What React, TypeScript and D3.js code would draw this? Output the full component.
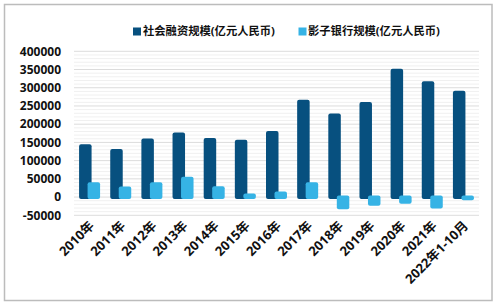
import React from "react";
import * as d3 from "d3";

const categories = ["2010年","2011年","2012年","2013年","2014年","2015年","2016年","2017年","2018年","2019年","2020年","2021年","2022年1-10月"];
const socialFinancing = [144800,132000,161000,177500,162000,157500,181000,267000,229500,261000,352000,318000,291500];
const shadowBanking = [41000,29000,41000,55500,30000,10000,15500,41000,-33500,-23500,-18000,-31500,-9000];
const seriesNames = ["社会融资规模(亿元人民币)","影子银行规模(亿元人民币)"];
const yTicks = [-50000,0,50000,100000,150000,200000,250000,300000,350000,400000];

const W = 496, H = 305;
const DARK = "#07507f";
const LIGHT = "#36b3e5";
const FONT = "'Open Sans', 'Noto Sans CJK SC', sans-serif";

export default function App() {
  const x = d3.scaleBand<string>().domain(categories).range([74, 479]).paddingInner(0).paddingOuter(0);
  const y = d3.scaleLinear().domain([-50000, 400000]).range([215.3, 51.3]);
  const minor = d3.range(-50000, 400001, 10000);
  const bw = 12.5;
  const bars: any[] = [];
  categories.forEach((c, i) => {
    const cx = x(c)! + x.bandwidth() / 2;
    const v1 = socialFinancing[i];
    const v2 = shadowBanking[i];
    const y0 = y(0);
    bars.push(
      <rect key={"d" + i} x={cx - 10.5} y={y(v1)} width={bw} height={y0 - y(v1) + 2} rx={2} fill={DARK} />
    );
    const top = v2 >= 0 ? y(v2) : y0 - 1.5;
    const h = v2 >= 0 ? y0 - y(v2) + 2 : y(v2) - y0 + 1.5;
    bars.push(
      <rect key={"l" + i} x={cx - 2} y={top} width={bw} height={h} rx={2} fill={LIGHT} />
    );
  });
  return (
    <svg width={W} height={H} style={{ position: "absolute", left: 0, top: 0 }} fontFamily={FONT}>
      <rect x={0} y={0} width={W} height={H} fill="#fff" />
      <rect x={4.5} y={4.5} width={487.5} height={296} fill="#fff" stroke="#bcbcbc" strokeWidth={1.5} />
      {minor.map((v) => (
        <line key={"m" + v} x1={74} x2={479} y1={y(v)} y2={y(v)} stroke={v % 50000 === 0 ? "#dcdcdc" : "#f0f0f0"} strokeWidth={1} />
      ))}
      {yTicks.map((v) => (
        <text key={"t" + v} x={61} y={y(v)} dy="0.35em" textAnchor="end" fontSize={12} fontWeight="bold" fill="#111">{v}</text>
      ))}
      {bars}
      {categories.map((c) => {
        const cx = x(c)! + x.bandwidth() / 2 - 1;
        return (
          <text key={"x" + c} transform={`translate(${cx},${220}) rotate(-45)`} textAnchor="end" dy="0.7em" fontSize={13} fontWeight="bold" fill="#111">{c}</text>
        );
      })}
      <rect x={133} y={27.5} width={8} height={8} fill={DARK} />
      <text x={143} y={31.5} dy="0.35em" fontSize={11.3} fontWeight="bold" fill="#111">{seriesNames[0]}</text>
      <rect x={298.5} y={27.5} width={8} height={8} fill={LIGHT} />
      <text x={308} y={31.5} dy="0.35em" fontSize={11.3} fontWeight="bold" fill="#111">{seriesNames[1]}</text>
    </svg>
  );
}
